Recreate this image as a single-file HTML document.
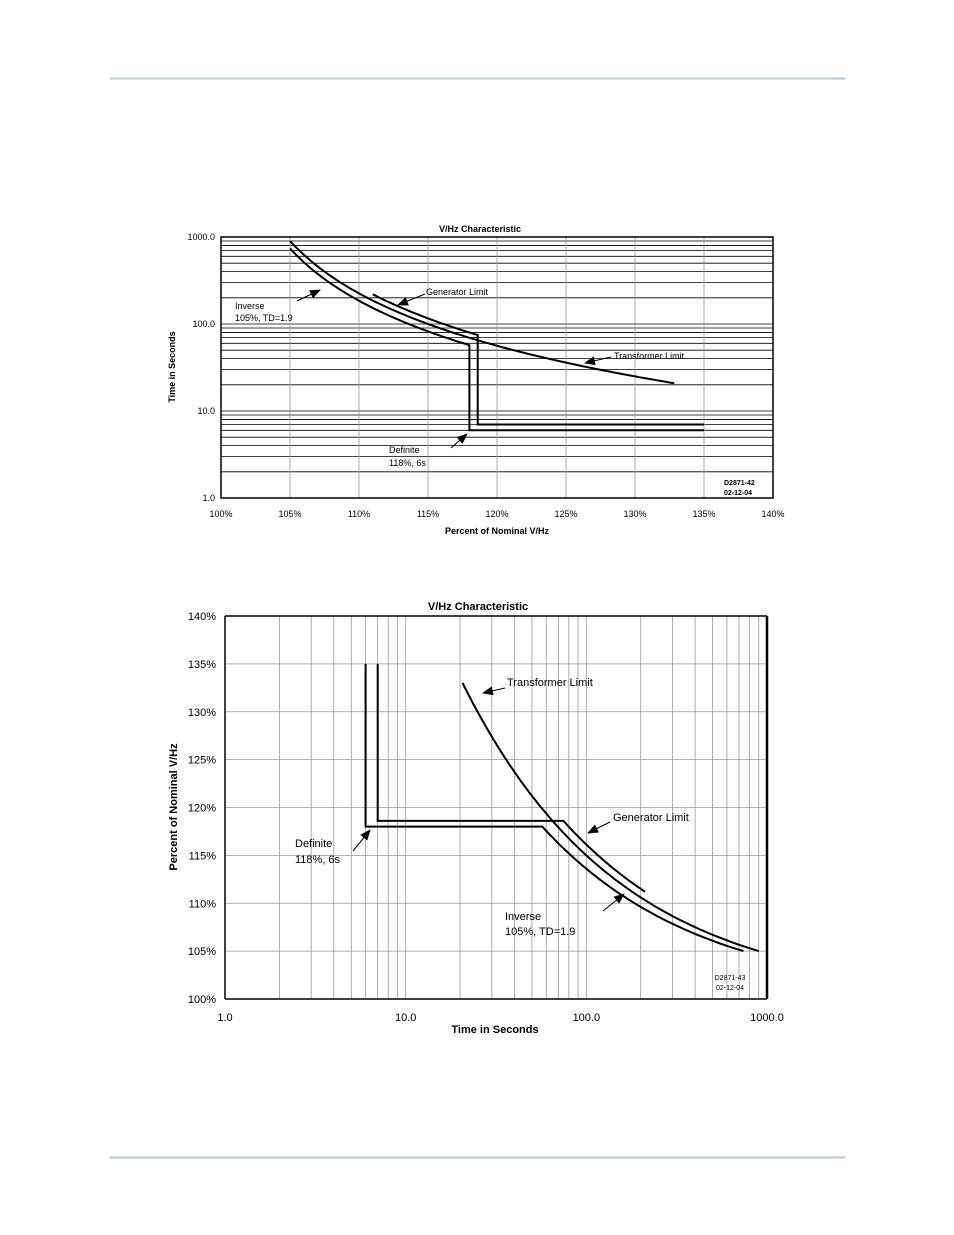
<!DOCTYPE html>
<html><head><meta charset="utf-8">
<style>
html,body{margin:0;padding:0;background:#fff;}
svg{display:block;font-family:"Liberation Sans",Arial,sans-serif;}
</style></head>
<body>
<svg id="s" width="954" height="1235" viewBox="0 0 954 1235" xmlns="http://www.w3.org/2000/svg">
<rect width="954" height="1235" fill="#fff"/>
<line x1="110" y1="78.5" x2="845" y2="78.5" stroke="#b4c8e0" stroke-width="2"/>
<line x1="110" y1="1157.5" x2="845" y2="1157.5" stroke="#b4c8e0" stroke-width="2"/>
<defs><marker id="ah" markerWidth="11" markerHeight="9" refX="10" refY="4.5" orient="auto" markerUnits="userSpaceOnUse"><path d="M0,0 L11,4.5 L0,9 z" fill="#000"/></marker></defs>
<g id="g1"></g>
<g id="g2"></g>
</svg>
<script>
var NS="http://www.w3.org/2000/svg";
function el(p,t,a,txt){var e=document.createElementNS(NS,t);for(var k in a)e.setAttribute(k,a[k]);if(txt!==undefined)e.textContent=txt;p.appendChild(e);return e;}
function line(p,x1,y1,x2,y2,c,w){return el(p,'line',{x1:x1,y1:y1,x2:x2,y2:y2,stroke:c,'stroke-width':w});}
function txt(p,x,y,s,sz,anchor,bold,extra){var a={x:x,y:y,'font-size':sz,'text-anchor':anchor||'start'};if(bold)a['font-weight']='bold';for(var k in extra)a[k]=extra[k];return el(p,'text',a,s);}
function poly(p,pts,w){el(p,'polyline',{points:pts.map(function(q){return q[0].toFixed(1)+','+q[1].toFixed(1)}).join(' '),fill:'none',stroke:'#000','stroke-width':w,'stroke-linejoin':'miter'});}
function arrow(p,x1,y1,x2,y2){el(p,'line',{x1:x1,y1:y1,x2:x2,y2:y2,stroke:'#000','stroke-width':1,'marker-end':'url(#ah)'});}
function inv(p){return 18500/Math.pow(p-100,2);}
function tr(p){return 22500/Math.pow(p-100,2);}
function gen(p){return 29900/Math.pow(p-100,2.05);}

var g=document.getElementById('g1');
var L=221,R=773,T=237,B=498;
function X1(p){return L+(p-100)*(R-L)/40;}
function Y1(t){return B-Math.log10(t)*(B-T)/3;}
for(var d=0;d<3;d++)for(var m=2;m<=9;m++){var y=Y1(Math.pow(10,d)*m);line(g,L,y,R,y,'#000',0.8);}
for(var d=1;d<3;d++){var y=Y1(Math.pow(10,d));line(g,L,y,R,y,'#000',0.8);}
for(var p=105;p<140;p+=5){var x=X1(p);line(g,x,T,x,B,'#999',0.8);}
el(g,'rect',{x:L,y:T,width:R-L,height:B-T,fill:'none',stroke:'#000','stroke-width':1.5});
var a=[];for(var p=105;p<=118;p+=0.25)a.push([X1(p),Y1(inv(p))]);
a.push([X1(118),Y1(6)]);a.push([X1(135),Y1(6)]);poly(g,a,2);
a=[];for(var p=105;p<=118.6;p+=0.25)a.push([X1(p),Y1(tr(p))]);
a.push([X1(118.6),Y1(tr(118.6))]);for(var p=118.6;p<=133;p+=0.25)a.push([X1(p),Y1(tr(p))]);poly(g,a,2);
a=[];for(var p=111;p<=118.6;p+=0.2)a.push([X1(p),Y1(gen(p))]);a.push([X1(118.6),Y1(gen(118.6))]);
a.push([X1(118.6),Y1(7)]);a.push([X1(135),Y1(7)]);poly(g,a,2);
txt(g,480,232,'V/Hz Characteristic',9,'middle',true);
[['1000.0',T],['100.0',Y1(100)],['10.0',Y1(10)],['1.0',B]].forEach(function(v){txt(g,215,v[1]+3,v[0],9,'end');});
for(var p=100;p<=140;p+=5)txt(g,X1(p),517,p+'%',9,'middle');
txt(g,497,534,'Percent of Nominal V/Hz',9,'middle',true);
txt(g,0,0,'Time in Seconds',9,'middle',true,{transform:'translate(175,367) rotate(-90)'});
txt(g,235,309,'Inverse',9);txt(g,235,321,'105%, TD=1.9',9);arrow(g,297,301,320,290);
txt(g,426,295,'Generator Limit',9);arrow(g,425,294,398,305);
txt(g,614,359,'Transformer Limit',9);arrow(g,611,357,585,363);
txt(g,389,453,'Definite',9);txt(g,389,466,'118%, 6s',9);arrow(g,451,448,467,434);
txt(g,724,485,'D2871-42',7,'start',true);txt(g,724,495,'02-12-04',7,'start',true);

g=document.getElementById('g2');
L=225;R=767;T=616;B=999;
function X2(t){return L+Math.log10(t)*(R-L)/3;}
function Y2(p){return B-(p-100)*(B-T)/40;}
for(var d=0;d<3;d++)for(var m=2;m<=10;m++){var x=X2(Math.pow(10,d)*m);line(g,x,T,x,B,'#999',0.8);}
for(var p=105;p<140;p+=5){var y=Y2(p);line(g,L,y,R,y,'#999',0.8);}
line(g,L,T,R,T,'#000',1.5);line(g,L,T,L,B,'#000',1.5);line(g,L,B,R,B,'#000',1.5);line(g,R,T,R,B,'#000',2.5);
a=[[X2(6),Y2(135)],[X2(6),Y2(118)]];for(var p=118;p>=105;p-=0.2)a.push([X2(inv(p)),Y2(p)]);a.push([X2(inv(105)),Y2(105)]);poly(g,a,2);
a=[[X2(7),Y2(135)],[X2(7),Y2(118.6)]];for(var p=118.6;p>=111;p-=0.2)a.push([X2(gen(p)),Y2(p)]);poly(g,a,2);
a=[];for(var p=133;p>=105;p-=0.2)a.push([X2(tr(p)),Y2(p)]);a.push([X2(tr(105)),Y2(105)]);poly(g,a,2);
txt(g,478,610,'V/Hz Characteristic',11,'middle',true);
for(var p=100;p<=140;p+=5)txt(g,216,Y2(p)+4,p+'%',11,'end');
[['1.0',1],['10.0',10],['100.0',100],['1000.0',1000]].forEach(function(v){txt(g,X2(v[1]),1021,v[0],11,'middle');});
txt(g,495,1033,'Time in Seconds',11,'middle',true);
txt(g,0,0,'Percent of Nominal V/Hz',11,'middle',true,{transform:'translate(177,807) rotate(-90)'});
txt(g,507,686,'Transformer Limit',11);arrow(g,505,688,483,693);
txt(g,613,821,'Generator Limit',11);arrow(g,610,822,588,833);
txt(g,295,847,'Definite',11);txt(g,295,863,'118%, 6s',11);arrow(g,353,851,370,830);
txt(g,505,920,'Inverse',11);txt(g,505,935,'105%, TD=1.9',11);arrow(g,603,911,624,894);
txt(g,730,980,'D2871-43',7,'middle');txt(g,730,990,'02-12-04',7,'middle');
</script>
</body></html>
